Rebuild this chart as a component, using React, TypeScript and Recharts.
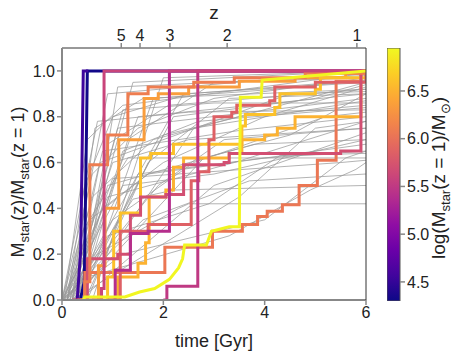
import { LineChart, Line, XAxis, YAxis, Label, BarChart, Bar } from "recharts"

// top axis: cosmic time at the listed redshifts
const zLabels = [5, 4, 3, 2, 1]
const zTimes = [1.17, 1.54, 2.13, 3.26, 5.82]
const timeTicks = [0, 2, 4, 6]
const fracTicks = [0, 0.2, 0.4, 0.6, 0.8, 1.0]
const massTicks = [4.5, 5.0, 5.5, 6.0, 6.5]

// gray histories, [time Gyr, M(z)/M(z=1)]
const grayTracks: number[][][] = [
    [[0, 0], [0.6, 0.55], [1.5, 0.75], [3, 0.88], [6, 0.97]],
    [[0.05, 0], [0.5, 0.7], [1.2, 0.85], [6, 0.99]],
    [[0, 0], [0.8, 0.4], [2.0, 0.6], [4, 0.8], [6, 0.93]],
    [[0.1, 0], [1.0, 0.6], [2.5, 0.7], [6, 0.75]],
    [[0, 0], [0.4, 0.3], [1.3, 0.62], [6, 0.62]],
    [[0.2, 0], [1.5, 0.8], [6, 0.9]],
    [[0.1, 0], [0.9, 0.9], [6, 1.0]],
    [[0, 0], [1.2, 0.5], [3.0, 0.55], [6, 0.7]],
    [[0.3, 0], [2.0, 0.72], [3.5, 0.8], [6, 0.85]],
    [[0.15, 0], [0.7, 0.2], [2.3, 0.4], [2.5, 0.42], [6, 0.42]],
    [[0, 0], [0.5, 0.1], [3.3, 0.28], [4.9, 0.48], [5.8, 0.57], [6, 0.6]],
    [[0.2, 0], [1.1, 0.75], [2.2, 0.78], [6, 0.88]],
    [[0.05, 0], [0.6, 0.45], [1.8, 0.7], [6, 0.95]],
    [[0.25, 0], [1.4, 0.95], [6, 1.0]],
    [[0.1, 0], [2.4, 0.9], [6, 0.95]],
    [[0.3, 0], [0.9, 0.5], [3.8, 0.68], [6, 0.7]],
    [[0, 0], [1.6, 0.35], [3.7, 0.52], [6, 0.55]],
    [[0.4, 0], [1.8, 0.88], [4.2, 0.92], [6, 0.96]],
    [[0.2, 0], [1.0, 0.35], [2.6, 0.6], [5.2, 0.8], [6, 0.82]],
    [[0.1, 0], [0.8, 0.65], [3.5, 0.74], [6, 0.8]],
    [[0.35, 0], [1.3, 0.7], [3.0, 0.95], [6, 0.97]],
    [[0, 0], [0.7, 0.78], [2.5, 0.82], [6, 0.83]],
    [[0.2, 0], [2.8, 0.62], [4.5, 0.72], [6, 0.9]],
    [[0.5, 0], [1.5, 0.55], [4.0, 0.62], [6, 0.65]],
    [[0.15, 0], [1.2, 0.83], [3, 0.86], [6, 0.86]],
    [[0.05, 0], [1.9, 0.5], [3.2, 0.7], [6, 0.75]],
    [[0.3, 0], [0.9, 0.68], [2.1, 0.85], [6, 0.92]],
    [[0.2, 0], [3.5, 0.45], [5.0, 0.75], [6, 0.78]],
    [[0.4, 0], [1.1, 0.93], [6, 0.98]],
    [[0.1, 0], [1.4, 0.44], [2.2, 0.48], [6, 0.5]],
    [[0.25, 0], [2.2, 0.8], [5, 0.88], [6, 0.94]],
    [[0, 0], [0.9, 0.28], [2.9, 0.42], [4.3, 0.63], [6, 0.64]],
    [[0.45, 0], [1.7, 0.6], [3.3, 0.88], [6, 0.9]],
    [[0.1, 0], [0.55, 0.35], [1.7, 0.55], [6, 0.68]],
    [[0.3, 0], [2.6, 0.75], [6, 0.87]],
    [[0.2, 0], [0.75, 0.6], [1.5, 0.66], [4.5, 0.9], [6, 0.91]],
    [[0, 0], [1.2, 0.2], [4.0, 0.35], [5.6, 0.62], [6, 0.65]],
    [[0.6, 0], [2.0, 0.97], [6, 1.0]],
    [[0.15, 0], [1.0, 0.53], [5.5, 0.6], [6, 0.61]],
    [[0.35, 0], [3.0, 0.5], [6, 0.73]],
    [[0.1, 0], [0.45, 0.5], [1.0, 0.8], [2.5, 0.9], [6, 0.96]],
    [[0.2, 0], [0.65, 0.75], [1.6, 0.88], [6, 0.92]],
    [[0, 0], [0.35, 0.15], [0.9, 0.45], [3.4, 0.6], [6, 0.78]],
    [[0.3, 0], [1.2, 0.65], [2.7, 0.78], [6, 0.84]],
]

// coloured histories drawn as straight segments
const rampMasses = [4.32, 4.55, 6.93]
const rampTracks: number[][][] = [
    [[0.36, 0], [0.44, 0.08], [0.5, 1], [6, 1]],
    [[0.3, 0], [0.37, 0.22], [0.42, 1], [0.52, 1]],
    [[0.42, 0], [0.45, 0.013], [1.24, 0.013], [1.53, 0.035], [1.83, 0.05], [2.12, 0.09], [2.3, 0.14],
     [2.38, 0.18], [2.42, 0.24], [2.85, 0.24], [2.95, 0.3], [3.3, 0.32], [3.5, 0.32], [3.52, 0.885],
     [3.93, 0.885], [3.95, 0.96], [4.5, 0.97], [6, 1]],
]

// coloured histories drawn as steps
const stepMasses = [6.05, 6.35, 6.6, 6.5, 5.85, 5.7, 5.4, 5.5, 6.1, 5.6]
const stepTracks: number[][][] = [
    [[0.3, 0], [0.45, 0.12], [2.03, 0.23], [2.97, 0.3], [3.56, 0.33], [3.86, 0.365], [4.05, 0.387],
     [4.35, 0.416], [4.68, 0.5], [5.04, 0.61], [5.41, 0.955], [5.9, 1], [6, 1]],
    [[0.6, 0], [0.72, 0.15], [0.85, 0.4], [1.12, 0.7], [1.62, 0.88], [1.9, 0.9], [2.5, 0.93],
     [3.5, 0.955], [4.6, 0.97], [5.6, 0.99], [6, 1]],
    [[0.75, 0], [0.9, 0.1], [1.02, 0.3], [1.15, 0.38], [1.55, 0.62], [1.75, 0.64], [2.2, 0.68],
     [3.55, 0.76], [3.62, 0.81], [4.2, 0.84], [4.3, 0.9], [5.0, 0.92], [5.1, 0.97], [6, 1]],
    [[0.9, 0], [1.1, 0.1], [1.5, 0.16], [1.65, 0.25], [1.72, 0.45], [2.05, 0.48], [2.2, 0.58],
     [2.4, 0.62], [3.3, 0.64], [3.55, 0.7], [4.0, 0.72], [4.25, 0.75], [4.6, 0.8], [5.9, 1], [6, 1]],
    [[1.0, 0], [1.15, 0.3], [1.7, 0.33], [2.55, 0.52], [2.7, 0.56], [2.9, 0.7], [3.0, 0.8],
     [3.35, 0.82], [3.45, 0.85], [4.1, 0.87], [4.2, 0.93], [5.0, 0.95], [6, 1]],
    [[0.2, 0], [0.5, 0.18], [1.1, 0.2], [1.35, 0.37], [1.55, 0.45], [2.05, 0.46], [2.4, 0.59],
     [3.2, 0.6], [3.3, 0.64], [5.5, 0.65], [5.9, 1], [6, 1]],
    [[0.9, 0], [1.05, 0.13], [1.35, 0.29], [1.7, 0.3], [2.12, 1], [6, 1]],
    [[2.0, 0], [2.07, 0.06], [2.68, 1], [6, 1]],
    [[0.35, 0], [0.45, 0.08], [0.55, 0.59], [0.8, 0.59], [0.9, 0.72], [1.25, 0.72], [1.3, 0.9],
     [1.6, 0.9], [1.7, 0.93], [2.6, 0.95], [3.4, 0.97], [4.8, 0.99], [6, 1]],
    [[0.5, 0], [0.78, 0.05], [0.83, 1], [6, 1]],
]

const CB_MIN = 4.3
const CB_MAX = 6.95
const cbData = [{ name: "cb", range: [CB_MIN, CB_MAX] }]
const plasmaStops = ["#0d0887", "#41049d", "#6a00a8", "#8f0da4", "#b12a90", "#cc4778",
    "#e16462", "#f2844b", "#fca636", "#fcce25", "#f0f921"]

function plasma(m: number) {
    const f = Math.min(1, Math.max(0, (m - CB_MIN) / (CB_MAX - CB_MIN))) * 10
    const i = Math.min(9, Math.floor(f))
    const a = plasmaStops[i], b = plasmaStops[i + 1], w = f - i
    const ch = (s: string, k: number) => parseInt(s.slice(1 + 2 * k, 3 + 2 * k), 16)
    const c = [0, 1, 2].map(k => Math.round(ch(a, k) * (1 - w) + ch(b, k) * w))
    return `rgb(${c.join(",")})`
}

const toPts = (tr: number[][]) => tr.map(([t, v]) => ({ t, v }))
const font = "'Liberation Sans', Arial, sans-serif"
const tickStyle = { fontSize: 16, fill: "#222", fontFamily: font }

function YTitle() {
    return (
        <text transform="translate(24,182) rotate(-90)" textAnchor="middle" fontSize={18} fill="#222" fontFamily={font}>
            M<tspan dy={5} fontSize={13}>star</tspan><tspan dy={-5}>(z)/M</tspan>
            <tspan dy={5} fontSize={13}>star</tspan><tspan dy={-5}>(z = 1)</tspan>
        </text>
    )
}

function CbTitle() {
    return (
        <text transform="translate(58,178) rotate(-90)" textAnchor="middle" fontSize={19} fill="#222" fontFamily={font}>
            log(M<tspan dy={5} fontSize={13}>star</tspan><tspan dy={-5}>(z = 1)/M</tspan>
            <tspan dy={5} fontSize={13}>⊙</tspan><tspan dy={-5}>)</tspan>
        </text>
    )
}

function ZTitle() {
    return <text x={214} y={19} textAnchor="middle" fontSize={19} fill="#222" fontFamily={font}>z</text>
}

const lineProps = { xAxisId: "b", yAxisId: "l", dataKey: "v", dot: false, activeDot: false, isAnimationActive: false }

export default function App() {
    return (
        <div style={{ position: "absolute", left: 0, top: 0, width: 463, height: 355 }}>
            <div style={{ position: "absolute", left: 0, top: 0 }}>
                <LineChart width={463} height={355} margin={{ top: 0, right: 96, bottom: 0, left: 0 }}>
                    <XAxis xAxisId="b" type="number" dataKey="t" domain={[0, 6]} ticks={timeTicks}
                        allowDataOverflow height={55} tick={tickStyle} tickLine={{ stroke: "#888", strokeWidth: 1.5 }}
                        tickSize={5} axisLine={{ stroke: "#888", strokeWidth: 2 }} tickFormatter={(v: number) => String(v)}>
                        <Label value="time [Gyr]" position="insideBottom" offset={8} style={{ fontSize: 18, fill: "#222", fontFamily: font }} />
                    </XAxis>
                    <XAxis xAxisId="top" orientation="top" type="number" dataKey="t" domain={[0, 6]} ticks={zTimes}
                        allowDataOverflow height={48} tick={tickStyle} tickLine={{ stroke: "#888", strokeWidth: 1.5 }}
                        tickSize={5} axisLine={{ stroke: "#333", strokeWidth: 1 }}
                        tickFormatter={(v: number) => String(zLabels[zTimes.indexOf(v)])}>
                        <Label content={<ZTitle />} />
                    </XAxis>
                    <YAxis yAxisId="l" type="number" domain={[0, 1.1]} ticks={fracTicks} allowDataOverflow width={62}
                        tick={tickStyle} tickLine={{ stroke: "#888", strokeWidth: 1.5 }} tickSize={5}
                        axisLine={{ stroke: "#888", strokeWidth: 2 }} tickFormatter={(v: number) => v.toFixed(1)}>
                        <Label content={<YTitle />} />
                    </YAxis>
                    <YAxis yAxisId="r" orientation="right" type="number" domain={[0, 1.1]} width={1}
                        allowDataOverflow tick={false} tickLine={false} axisLine={{ stroke: "#333", strokeWidth: 1 }} />
                    {grayTracks.map((tr, i) => (
                        <Line key={"g" + i} {...lineProps} xAxisId={i === 0 ? "top" : "b"} yAxisId={i === 0 ? "r" : "l"}
                            data={toPts(tr)} type="linear" stroke="#9a9a9a" strokeOpacity={0.75} strokeWidth={1} />
                    ))}
                    {rampTracks.slice(0, 2).map((tr, i) => (
                        <Line key={"r" + i} {...lineProps} data={toPts(tr)} type="linear"
                            stroke={plasma(rampMasses[i])} strokeWidth={3} />
                    ))}
                    {stepTracks.map((tr, i) => (
                        <Line key={"s" + i} {...lineProps} data={toPts(tr)} type="stepAfter"
                            stroke={plasma(stepMasses[i])} strokeWidth={3} />
                    ))}
                    {rampTracks.slice(2).map((tr, i) => (
                        <Line key={"y" + i} {...lineProps} data={toPts(tr)} type="linear"
                            stroke={plasma(rampMasses[i + 2])} strokeWidth={3} />
                    ))}
                </LineChart>
            </div>
            <div style={{ position: "absolute", left: 387, top: 0 }}>
                <BarChart width={76} height={355} data={cbData} barCategoryGap={0}
                    margin={{ top: 48, right: 0, bottom: 54, left: 0 }}>
                    <defs>
                        <linearGradient id="plasmaGrad" x1="0" y1="1" x2="0" y2="0">
                            {plasmaStops.map((c, i) => (
                                <stop key={i} offset={`${i * 10}%`} stopColor={c} />
                            ))}
                        </linearGradient>
                    </defs>
                    <XAxis dataKey="name" hide />
                    <YAxis orientation="right" type="number" domain={[CB_MIN, CB_MAX]} ticks={massTicks} width={63}
                        allowDataOverflow tick={tickStyle} tickLine={{ stroke: "#888", strokeWidth: 1.5 }} tickSize={5}
                        axisLine={false} tickFormatter={(v: number) => v.toFixed(1)}>
                        <Label content={<CbTitle />} />
                    </YAxis>
                    <Bar dataKey="range" fill="url(#plasmaGrad)" stroke="#555" strokeWidth={1} isAnimationActive={false} />
                </BarChart>
            </div>
        </div>
    )
}
